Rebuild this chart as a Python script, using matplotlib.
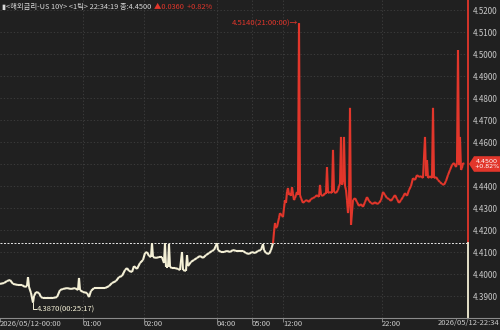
import numpy as np
import matplotlib
matplotlib.use("Agg")
import matplotlib.pyplot as plt
from matplotlib.collections import LineCollection
from matplotlib.patches import Polygon
from matplotlib.lines import Line2D

# ---------------- data ----------------
tick_index = [0, 4, 7, 10, 13, 18, 22, 25, 27, 28, 29, 31, 33, 34, 36, 39, 41, 43, 48, 53,
              57, 60, 63, 67, 71, 75, 78, 79, 80, 83, 87, 89, 91, 94, 100, 105, 109, 112, 116, 119,
              122, 125, 127, 129, 132, 134, 137, 140, 143, 145, 147, 149, 151, 152, 153, 156, 159, 162, 164, 165,
              166, 168, 169, 170, 172, 175, 178, 180, 182, 183, 186, 187, 188, 191, 194, 197, 200, 203, 206, 209,
              212, 214, 217, 218, 221, 224, 227, 230, 233, 236, 240, 243, 246, 249, 252, 255, 258, 261, 263, 264,
              266, 269, 271, 273, 274, 275, 276, 277, 279, 280, 282, 283, 284, 285, 286, 287, 288, 289, 290, 291,
              292, 293, 294, 295, 296, 297, 298, 299, 300, 301, 303, 305, 307, 309, 311, 313, 315, 317, 319, 320,
              321, 323, 325, 326, 327, 328, 330, 332, 333, 334, 336, 338, 339, 340, 341, 342, 343, 344, 345, 346,
              347, 348, 349, 350, 351, 352, 353, 355, 357, 359, 361, 363, 365, 367, 369, 371, 373, 375, 377, 379,
              381, 383, 385, 387, 389, 391, 393, 395, 397, 399, 401, 403, 405, 407, 409, 411, 413, 415, 417, 419,
              421, 423, 425, 426, 427, 428, 430, 432, 433, 434, 436, 438, 440, 442, 444, 446, 448, 450, 452, 454,
              456, 457, 458, 459, 460, 461, 462, 463, 464]
yield_values = [4.3955, 4.3959, 4.3968, 4.3973, 4.3955, 4.3950, 4.3950, 4.3941, 4.3945, 4.3986,
                4.3941, 4.3914, 4.3870, 4.3900, 4.3918, 4.3914, 4.3895, 4.3891, 4.3891, 4.3891,
                4.3895, 4.3927, 4.3932, 4.3936, 4.3932, 4.3936, 4.3927, 4.3982, 4.3927, 4.3918,
                4.3914, 4.3895, 4.3923, 4.3936, 4.3936, 4.3936, 4.3945, 4.3959, 4.3968, 4.3986,
                4.3991, 4.4018, 4.4027, 4.4014, 4.4009, 4.4036, 4.4023, 4.4050, 4.4064, 4.4095,
                4.4100, 4.4082, 4.4077, 4.4140, 4.4077, 4.4073, 4.4077, 4.4077, 4.4050, 4.4140,
                4.4032, 4.4032, 4.4136, 4.4032, 4.4027, 4.4027, 4.4023, 4.4018, 4.4100, 4.4018,
                4.4014, 4.4086, 4.4036, 4.4055, 4.4064, 4.4073, 4.4082, 4.4073, 4.4086, 4.4095,
                4.4105, 4.4109, 4.4140, 4.4109, 4.4100, 4.4100, 4.4105, 4.4100, 4.4109, 4.4105,
                4.4105, 4.4105, 4.4095, 4.4091, 4.4100, 4.4095, 4.4105, 4.4109, 4.4136, 4.4109,
                4.4095, 4.4091, 4.4109, 4.4140, 4.4191, 4.4232, 4.4209, 4.4214, 4.4255, 4.4277,
                4.4264, 4.4259, 4.4300, 4.4336, 4.4323, 4.4373, 4.4391, 4.4359, 4.4368, 4.4355,
                4.4395, 4.4364, 4.4336, 4.4345, 4.4359, 4.4373, 4.4359, 4.5140, 4.4359, 4.4345,
                4.4323, 4.4332, 4.4336, 4.4327, 4.4341, 4.4345, 4.4350, 4.4359, 4.4350, 4.4405,
                4.4359, 4.4355, 4.4368, 4.4364, 4.4486, 4.4368, 4.4373, 4.4368, 4.4564, 4.4373,
                4.4368, 4.4382, 4.4400, 4.4409, 4.4623, 4.4405, 4.4418, 4.4623, 4.4400, 4.4382,
                4.4336, 4.4277, 4.4314, 4.4755, 4.4223, 4.4282, 4.4336, 4.4345, 4.4327, 4.4309,
                4.4318, 4.4305, 4.4327, 4.4350, 4.4332, 4.4323, 4.4318, 4.4327, 4.4318, 4.4323,
                4.4336, 4.4373, 4.4359, 4.4345, 4.4341, 4.4332, 4.4345, 4.4359, 4.4341, 4.4323,
                4.4336, 4.4350, 4.4368, 4.4355, 4.4382, 4.4400, 4.4436, 4.4427, 4.4450, 4.4441,
                4.4445, 4.4436, 4.4623, 4.4445, 4.4518, 4.4436, 4.4445, 4.4436, 4.4755, 4.4436,
                4.4441, 4.4427, 4.4418, 4.4409, 4.4405, 4.4423, 4.4450, 4.4473, 4.4495, 4.4505,
                4.4486, 4.4505, 4.5018, 4.4495, 4.4623, 4.4473, 4.4482, 4.4505, 4.4500]

prev_close = 4.4140
last_price = 4.4500
change_abs = 0.0360
change_pct = 0.82
high_time = "21:00:00"
low_time = "00:25:17"
y_ticks = [4.39, 4.40, 4.41, 4.42, 4.43, 4.44, 4.45, 4.46, 4.47, 4.48, 4.49, 4.50, 4.51, 4.52]
x_tick_index = [0, 83, 144, 217, 252, 283, 382]
x_tick_labels = ["2026/05/12-00:00", "01:00", "02:00", "04:00", "05:00", "12:00", "22:00"]
last_tick_index = 468
end_label = "2026/05/12-22:34"
header_text = "▮<해외금리-US 10Y> <1틱> 22:34:19 종:4.4500"

# ---------------- style ----------------
W, H = 500, 330
BG = "#202020"
GRID = "#404040"
RED = "#e2362b"
CREAM = "#f4f0d6"
TXT = "#c8c8c8"
FS = 5.5
plt.rcParams["font.family"] = ["Liberation Sans Narrow", "Noto Sans CJK KR", "DejaVu Sans"]

fig = plt.figure(figsize=(W / 100, H / 100), dpi=100, facecolor=BG)
ax = fig.add_axes([0, 12 / H, 468 / W, 318 / H])
ax.set_facecolor(BG)
ax.set_xlim(0, last_tick_index)
ax.set_ylim(4.38, 4.52455)
for s in ax.spines.values():
    s.set_visible(False)

# grid
for yv in y_ticks:
    ax.axhline(yv, color=GRID, lw=0.6, ls=(0, (1.5, 2.5)), zorder=0)
for xv in x_tick_index[1:]:
    ax.axvline(xv, color=GRID, lw=0.6, ls=(0, (1.5, 2.5)), zorder=0)

# y tick labels on the right (the one under the price box is hidden by it)
ax.yaxis.tick_right()
ax.set_yticks(y_ticks)
ax.set_yticklabels(["" if abs(v - last_price) < 1e-9 else f"{v:.4f}" for v in y_ticks])
ax.tick_params(axis="y", length=0, pad=3.5, labelsize=FS + 0.3, labelcolor=TXT)

# x ticks
ax.set_xticks(x_tick_index)
ax.set_xticklabels(x_tick_labels)
ax.tick_params(axis="x", direction="out", length=3, width=0.6, color="#909090",
               labelsize=FS, labelcolor=TXT, pad=-1.6)
for lbl in ax.get_xticklabels():
    lbl.set_horizontalalignment("left")

# previous close dashed line
ax.axhline(prev_close, color="#e8e8e8", lw=0.7, dashes=(2, 1.6), zorder=2)

# price line coloured by relation to previous close
xs = np.array(tick_index, dtype=float)
ys = np.array(yield_values)
pts = np.column_stack([xs, ys]).reshape(-1, 1, 2)
segs = np.concatenate([pts[:-1], pts[1:]], axis=1)
cols = [RED if max(ys[i], ys[i + 1]) > prev_close + 1e-6 else CREAM for i in range(len(ys) - 1)]
lc = LineCollection(segs, colors=cols, linewidths=1.5, zorder=3, capstyle="butt", joinstyle="miter")
ax.add_collection(lc)

# current-time marker line
ax.plot([last_tick_index, last_tick_index], [prev_close, 4.52455], color=RED, lw=1.3, clip_on=False, zorder=4)
ax.plot([last_tick_index, last_tick_index], [4.38, prev_close], color=CREAM, lw=1.3, clip_on=False, zorder=4)

# high annotation
i_hi = int(np.argmax(ys))
ax.text(xs[i_hi] - 0.5, ys[i_hi], f"{ys[i_hi]:.4f}({high_time})→", color=RED, fontsize=FS,
        ha="right", va="center", zorder=5)

# low annotation
i_lo = int(np.argmin(ys))
drop = 0.0030
ax.plot([xs[i_lo], xs[i_lo], xs[i_lo] + 3], [ys[i_lo], ys[i_lo] - drop, ys[i_lo] - drop],
        color=CREAM, lw=0.7, zorder=5)
ax.text(xs[i_lo] + 3.5, ys[i_lo] - drop, f"{ys[i_lo]:.4f}({low_time})", color=CREAM, fontsize=FS,
        ha="left", va="center", zorder=5)

# bottom axis line
fig.add_artist(Line2D([0, 1], [12 / H, 12 / H], color="#8a8a8a", lw=0.8))

# end time label
fig.text(499 / W, 1 - 323.5 / H, end_label, color=TXT, fontsize=FS, ha="right", va="center")

# header
hdr = fig.text(2 / W, 1 - 7 / H, header_text, color="#d8d8d8", fontsize=5.3, ha="left", va="center")
fig.canvas.draw()
bb = hdr.get_window_extent(renderer=fig.canvas.get_renderer())
fig.text((bb.x1 + 3) / W, 1 - 7 / H, f"▲{change_abs:.4f}  +{change_pct:.2f}%", color=RED, fontsize=5.3,
         ha="left", va="center")

# current price box
y_last_px = 330 - (12 + (last_price - 4.38) / (4.52455 - 4.38) * 318)
box = [(469, y_last_px), (474, y_last_px - 7.8), (500, y_last_px - 7.8), (500, y_last_px + 7.8), (474, y_last_px + 7.8)]
box_fig = [(px / W, 1 - py / H) for px, py in box]
fig.add_artist(Polygon(box_fig, closed=True, facecolor=RED, edgecolor="none", transform=fig.transFigure, zorder=5))
fig.text(487 / W, 1 - y_last_px / H, f"{last_price:.4f}\n+{change_pct:.2f}%", color="white", fontsize=4.6,
         ha="center", va="center", linespacing=1.05, multialignment="center",
         family=["Liberation Sans Narrow", "DejaVu Sans"], zorder=6)

fig.savefig("out.png", dpi=100, facecolor=BG)
